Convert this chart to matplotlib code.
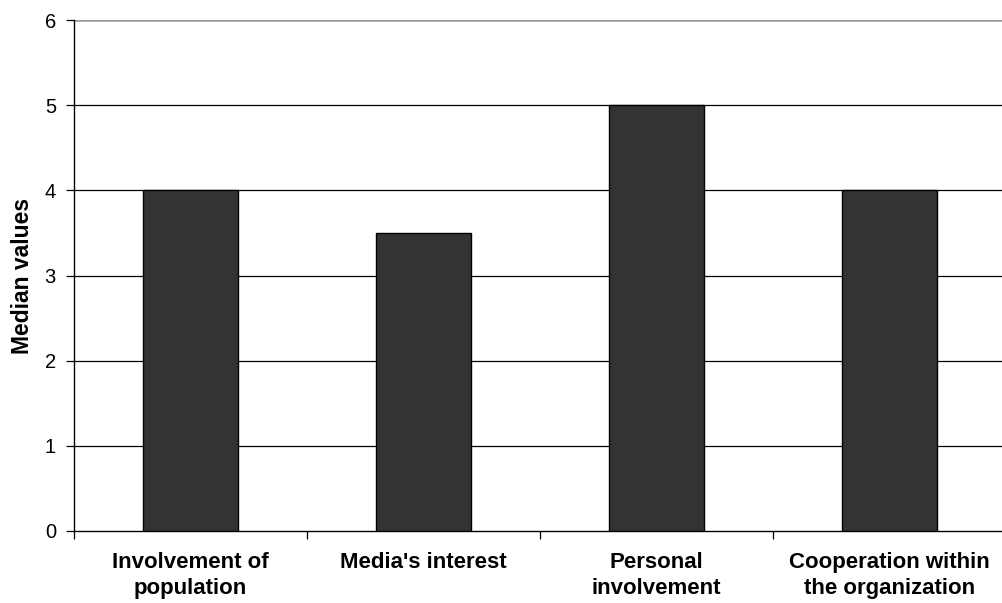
import matplotlib
matplotlib.use("Agg")
import matplotlib.pyplot as plt

categories = ["Involvement of\npopulation", "Media's interest",
              "Personal\ninvolvement", "Cooperation within\nthe organization"]
medians = [4, 3.5, 5, 4]
y_ticks = [0, 1, 2, 3, 4, 5, 6]

plt.rcParams['font.family'] = ['Liberation Sans', 'DejaVu Sans']

fig = plt.figure(figsize=(10.03, 6.03), dpi=100)
ax = fig.add_axes([74 / 1003, 1 - 531 / 603, 932 / 1003, 511 / 603])

x = list(range(len(categories)))
ax.bar(x, medians, width=0.41, color="#333333", edgecolor="black",
       linewidth=1.0, zorder=3)

ax.set_xlim(-0.5, len(categories) - 0.5)
ax.set_ylim(0, 6)
ax.set_yticks(y_ticks)
ax.set_yticklabels([str(t) for t in y_ticks], fontsize=14.5)
for t in y_ticks[1:-1]:
    ax.axhline(t, color="black", linewidth=0.9, zorder=1)
ax.axhline(6, color="#999999", linewidth=1.8, zorder=1)

ax.set_xticks([i + 0.5 for i in range(-1, len(categories))])
ax.set_xticklabels([])
ax.tick_params(axis="x", direction="out", length=6, width=0.9, color="black")
ax.tick_params(axis="y", direction="out", length=6, width=0.9, color="black", pad=7)
for i, c in enumerate(categories):
    ax.text(i, -0.25, c, ha="center", va="top", fontsize=16, fontweight="bold",
            linespacing=1.32, transform=ax.transData)

for s in ["top", "right"]:
    ax.spines[s].set_visible(False)
ax.spines["left"].set_linewidth(1.0)
ax.spines["bottom"].set_linewidth(1.0)

ax.set_ylabel("Median values", fontsize=16.5, fontweight="bold")
ax.yaxis.set_label_coords(-40 / 932, 0.5)

fig.savefig("out.png", dpi=100)
